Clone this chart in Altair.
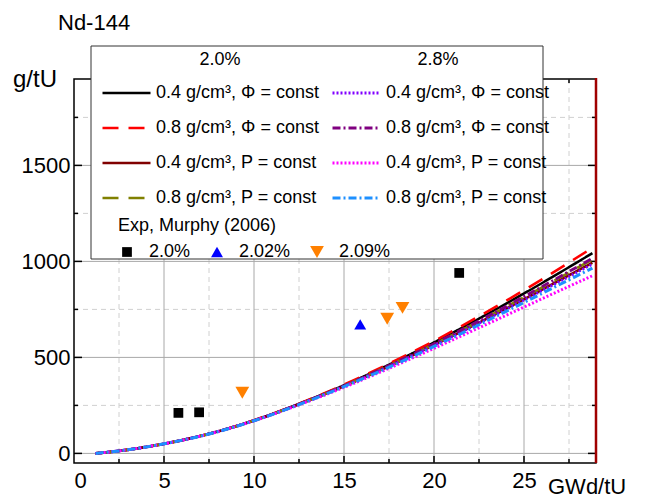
import altair as alt
import pandas as pd

# ---------------- data ----------------
burnup = [1.2, 2.5, 5, 7.5, 10, 12.5, 15, 17.5, 20, 22.5, 25, 27.5, 28.8]

nd_20_04_phi = [0, 13, 50, 102, 172, 258, 355, 462, 578, 702, 833, 970, 1043]
nd_20_08_phi = [0, 13, 50, 102, 173, 259, 358, 467, 585, 714, 850, 994, 1071]
nd_20_04_p = [0, 13, 50, 102, 171, 256, 350, 454, 565, 681, 803, 928, 993]
nd_20_08_p = [0, 13, 50, 102, 171, 256, 352, 457, 569, 688, 813, 942, 1010]
nd_28_04_phi = [0, 13, 50, 102, 171, 255, 350, 453, 563, 678, 799, 921, 986]
nd_28_08_phi = [0, 13, 50, 102, 171, 257, 352, 458, 571, 691, 817, 947, 1016]
nd_28_04_p = [0, 13, 50, 101, 170, 253, 344, 443, 547, 654, 762, 870, 925]
nd_28_08_p = [0, 13, 50, 101, 170, 254, 348, 449, 557, 670, 786, 904, 965]

series_keys = [
    "2.0%|0.4 g/cm³, Φ = const", "2.0%|0.8 g/cm³, Φ = const",
    "2.0%|0.4 g/cm³, P = const", "2.0%|0.8 g/cm³, P = const",
    "2.8%|0.4 g/cm³, Φ = const", "2.8%|0.8 g/cm³, Φ = const",
    "2.8%|0.4 g/cm³, P = const", "2.8%|0.8 g/cm³, P = const",
]
series_values = [nd_20_04_phi, nd_20_08_phi, nd_20_04_p, nd_20_08_p,
                 nd_28_04_phi, nd_28_08_phi, nd_28_04_p, nd_28_08_p]

exp_sets = ["2.0%", "2.02%", "2.09%"]
exp_set = ["2.0%", "2.0%", "2.0%", "2.02%", "2.09%", "2.09%", "2.09%"]
exp_burnup = [5.8, 6.95, 21.4, 15.9, 9.35, 17.4, 18.25]
exp_nd = [211, 214, 940, 672, 316, 701, 758]

x_major = [5, 10, 15, 20, 25]
x_minor = [2.5, 7.5, 12.5, 17.5, 22.5, 27.5]
x_labels = [0, 5, 10, 15, 20, 25]
y_major = [0, 500, 1000, 1500]
y_minor = [250, 750, 1250, 1750]

# ---------------- styles ----------------
line_colors = ["#000000", "#ff0000", "#800000", "#808000",
               "#8000ff", "#800080", "#ff00ff", "#1e90ff"]
line_dashes = [[1, 0], [16, 10], [1, 0], [16, 10],
               [2, 2], [8, 3, 2, 3], [2, 2], [8, 3, 2, 3]]
line_widths = [2.5, 3, 2.5, 3, 1.5, 2, 1.5, 2]

FONT = "Liberation Sans"
W, H = 522, 384

lines_df = pd.DataFrame(
    [{"series": k, "burnup": b, "nd": v}
     for k, vals in zip(series_keys, series_values)
     for b, v in zip(burnup, vals)]
)
exp_df = pd.DataFrame({"set": exp_set, "burnup": exp_burnup, "nd": exp_nd})

XS = alt.Scale(domain=[0, 29], nice=False, zero=False)
YS = alt.Scale(domain=[-50, 1950], nice=False, zero=False)

AX_X = alt.Axis(values=x_labels, format="d", domain=False, ticks=False, tickSize=0,
                grid=False, labelFontSize=22, labelFont=FONT,
                labelColor="black", labelPadding=7, title=None)
AX_Y = alt.Axis(values=y_major, format="d", domain=False, ticks=False, tickSize=0,
                grid=False, labelFontSize=22, labelFont=FONT,
                labelColor="black", labelPadding=4, title=None)


def X(field):
    return alt.X(field, scale=XS, axis=AX_X, title=None)


def Y(field):
    return alt.Y(field, scale=YS, axis=AX_Y, title=None)


line_legend = alt.Legend(
    title=None, orient="none", legendX=27, legendY=-3.5, columns=2,
    columnPadding=12, rowPadding=0, clipHeight=35, symbolType="stroke",
    symbolSize=2304, labelExpr="split(datum.label, '|')[1]",
    labelFontSize=18, labelFont=FONT, labelOffset=4, labelLimit=400,
    labelColor="black", padding=0,
)

lines = alt.Chart(lines_df).mark_line(interpolate="monotone").encode(
    x=X("burnup:Q"),
    y=Y("nd:Q"),
    color=alt.Color("series:N", scale=alt.Scale(domain=series_keys, range=line_colors),
                    legend=line_legend),
    strokeDash=alt.StrokeDash("series:N", scale=alt.Scale(domain=series_keys, range=line_dashes),
                              legend=line_legend),
    strokeWidth=alt.StrokeWidth("series:N", scale=alt.Scale(domain=series_keys, range=line_widths),
                                legend=line_legend),
)

exp_legend = alt.Legend(
    title="Exp, Murphy (2006)", orient="none", legendX=44, legendY=138,
    direction="horizontal", columns=3, titleFontSize=18, titleFont=FONT,
    titleFontWeight="normal", titleColor="black", titlePadding=8,
    labelFontSize=18, labelFont=FONT, labelColor="black", labelOffset=13,
    columnPadding=17, symbolSize=160, symbolStrokeWidth=0, padding=0,
)

points = alt.Chart(exp_df).mark_point(filled=True, opacity=1).encode(
    x=X("burnup:Q"),
    y=Y("nd:Q"),
    color=alt.Color("set:N", scale=alt.Scale(domain=exp_sets, range=["#000000", "#0000ff", "#ff8000"]),
                    legend=exp_legend),
    shape=alt.Shape("set:N", scale=alt.Scale(domain=exp_sets, range=["square", "triangle-up", "triangle-down"]),
                    legend=exp_legend),
    size=alt.Size("set:N", scale=alt.Scale(domain=exp_sets, range=[95, 190, 190]), legend=None),
)


def vgrid(vals, color, dash):
    return alt.Chart(pd.DataFrame({"v": vals})).mark_rule(
        color=color, strokeWidth=1, strokeDash=dash).encode(
        x=X("v:Q"), y=alt.value(0), y2=alt.value(H))


def hgrid(vals, color, dash):
    return alt.Chart(pd.DataFrame({"v": vals})).mark_rule(
        color=color, strokeWidth=1, strokeDash=dash).encode(
        y=Y("v:Q"), x=alt.value(0), x2=alt.value(W))


def yticks(vals, a, b):
    return alt.Chart(pd.DataFrame({"v": vals})).mark_rule(color="black", strokeWidth=1.5).encode(
        y=Y("v:Q"), x=alt.value(a), x2=alt.value(b))


def xticks(vals, a, b):
    return alt.Chart(pd.DataFrame({"v": vals})).mark_rule(color="black", strokeWidth=1.5).encode(
        x=X("v:Q"), y=alt.value(a), y2=alt.value(b))


one = alt.Data(values=[{}])


def label(txt, x, y, size, align="left", baseline="alphabetic"):
    return alt.Chart(one).mark_text(
        text=txt, fontSize=size, font=FONT, color="black", align=align, baseline=baseline
    ).encode(x=alt.value(x), y=alt.value(y))


legend_box = alt.Chart(one).mark_rect(
    fill="white", stroke="#333333", strokeWidth=1).encode(
    x=alt.value(17), x2=alt.value(469), y=alt.value(-33), y2=alt.value(180))

right_axis = alt.Chart(one).mark_rule(color="#a00000", strokeWidth=2.5).encode(
    x=alt.value(W), y=alt.value(-1), y2=alt.value(H))

layers = [
    vgrid(x_minor, "#d0d0d0", [5, 4]),
    hgrid(y_minor, "#d0d0d0", [5, 4]),
    vgrid(x_major, "#a8a8a8", [1, 0]),
    hgrid(y_major, "#a8a8a8", [1, 0]),
    yticks(y_major, 0, 8), yticks(y_minor, 0, 4),
    yticks(y_major, W - 8, W), yticks(y_minor, W - 4, W),
    xticks(x_major, H - 7, H), xticks(x_minor, H - 4, H),
    xticks(x_major, 0, 7), xticks(x_minor, 0, 4),
    lines,
    points,
    legend_box,
    right_axis,
    label("2.0%", 146, -19, 18, align="center", baseline="middle"),
    label("2.8%", 364, -19, 18, align="center", baseline="middle"),
    label("Nd-144", -16, -49, 22),
    label("g/tU", -61, 8, 24),
    label("GWd/tU", 474, 415, 22),
]

chart = alt.layer(*layers).resolve_scale(
    color="independent", strokeDash="independent", strokeWidth="independent",
    shape="independent", size="independent",
).properties(
    width=W, height=H,
    autosize=alt.AutoSizeParams(type="none"),
    padding={"left": 74, "top": 79, "right": 49, "bottom": 36},
).configure_view(stroke="black", strokeWidth=1.5)

chart.save("out.html", embed_options={"renderer": "svg", "actions": False})
